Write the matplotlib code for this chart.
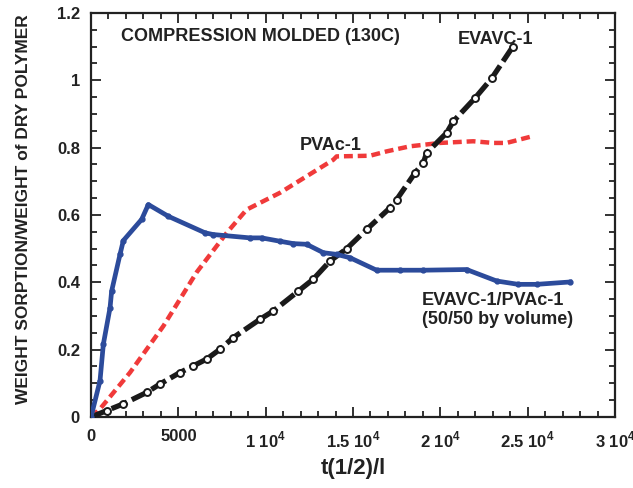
import matplotlib
matplotlib.use("Agg")
import matplotlib.pyplot as plt
from matplotlib.ticker import MultipleLocator, FixedLocator, FixedFormatter

plt.rcParams['font.family'] = ['Liberation Sans', 'DejaVu Sans']
plt.rcParams['font.weight'] = 'bold'
plt.rcParams['mathtext.fontset'] = 'custom'
plt.rcParams['mathtext.rm'] = 'Liberation Sans:bold'
plt.rcParams['mathtext.bf'] = 'Liberation Sans:bold'

# Blend EVAVC-1/PVAc-1 (50/50 by volume)
blend_x = [0, 515, 705, 1090, 1180, 1660, 1850, 2900, 3280, 4430, 6530, 6990,
           9100, 9770, 10820, 11580, 12340, 13300, 14060, 14830, 16350, 17690,
           19020, 21500, 23220, 24460, 25510, 27420]
blend_y = [0.0, 0.108, 0.216, 0.325, 0.374, 0.483, 0.524, 0.587, 0.631, 0.596,
           0.547, 0.542, 0.532, 0.532, 0.522, 0.515, 0.513, 0.488, 0.483, 0.473,
           0.436, 0.436, 0.436, 0.438, 0.404, 0.394, 0.394, 0.401]

# PVAc-1
pvac_x = [0, 515, 2230, 4140, 6050, 7770, 8910, 10820, 12500, 13870, 14060,
          15970, 16930, 18260, 19980, 21880, 23030, 23790, 25130]
pvac_y = [0.0, 0.024, 0.132, 0.27, 0.43, 0.547, 0.616, 0.666, 0.72, 0.764,
          0.774, 0.776, 0.789, 0.804, 0.814, 0.819, 0.814, 0.814, 0.832]

# EVAVC-1
evavc_x = [0, 900, 1850, 3190, 3950, 5090, 5860, 6620, 7380, 8150, 9670, 10440,
           11870, 12720, 13680, 14640, 15780, 17110, 17500, 18550, 19030, 19210,
           20360, 20740, 21980, 22940, 24150]
evavc_y = [0.0, 0.019, 0.039, 0.073, 0.098, 0.132, 0.152, 0.172, 0.201, 0.236,
           0.29, 0.315, 0.374, 0.409, 0.463, 0.500, 0.557, 0.621, 0.646, 0.725,
           0.755, 0.784, 0.844, 0.878, 0.947, 1.006, 1.10]

xtick_vals = [0, 5000, 10000, 15000, 20000, 25000, 30000]
xtick_labels = ['0', '5000', r'1 10$^{4}$', r'1.5 10$^{4}$', r'2 10$^{4}$',
                r'2.5 10$^{4}$', r'3 10$^{4}$']
ytick_vals = [0, 0.2, 0.4, 0.6, 0.8, 1.0, 1.2]
ytick_labels = ['0', '0.2', '0.4', '0.6', '0.8', '1', '1.2']

fig = plt.figure(figsize=(6.33, 4.88), dpi=100)
ax = fig.add_axes([0.1438, 0.1455, 0.8278, 0.8279])

blue = '#2c4b9b'
red = '#f03a3a'
ink = '#222222'

ax.plot(pvac_x, pvac_y, color=red, lw=3.2, dashes=(2.0, 1.1), zorder=2)
ax.plot(evavc_x, evavc_y, color='#1a1a1a', lw=3.8, dashes=(3.2, 1.0), zorder=3)
ax.plot(evavc_x, evavc_y, ls='none', marker='o', ms=5, mfc='white',
        mec='#1a1a1a', mew=1.4, zorder=4)
ax.plot(blend_x, blend_y, color=blue, lw=3.4, marker='o', ms=3.5,
        mfc=blue, mec=blue, zorder=5)

ax.set_xlim(0, 30000)
ax.set_ylim(0, 1.2)
ax.xaxis.set_major_locator(FixedLocator(xtick_vals))
ax.xaxis.set_major_formatter(FixedFormatter(xtick_labels))
ax.xaxis.set_minor_locator(MultipleLocator(1000))
ax.yaxis.set_major_locator(FixedLocator(ytick_vals))
ax.yaxis.set_major_formatter(FixedFormatter(ytick_labels))
ax.yaxis.set_minor_locator(MultipleLocator(0.05))

ax.tick_params(which='both', direction='in', top=True, right=True,
               width=1.3, labelsize=12, colors=ink)
ax.tick_params(which='major', length=7)
ax.tick_params(which='minor', length=4)
ax.tick_params(axis='x', which='major', pad=9)
ax.tick_params(axis='y', which='major', pad=8)
for s in ax.spines.values():
    s.set_linewidth(1.6)
    s.set_color(ink)

ax.set_xlabel('t(1/2)/l', fontsize=16, fontweight='bold', labelpad=6,
              color=ink)
ax.set_ylabel('WEIGHT SORPTION/WEIGHT of DRY POLYMER', fontsize=12.5,
              fontweight='bold', color=ink)
ax.yaxis.set_label_coords(-0.115, 0.515)

ax.text(1700, 1.13, 'COMPRESSION MOLDED (130C)', fontsize=13,
        fontweight='bold', color=ink, va='center', ha='left')
ax.text(11950, 0.805, 'PVAc-1', fontsize=13, fontweight='bold',
        color=ink, va='center', ha='left')
ax.text(21000, 1.12, 'EVAVC-1', fontsize=13, fontweight='bold',
        color=ink, va='center', ha='left')
ax.text(18950, 0.37, 'EVAVC-1/PVAc-1\n(50/50 by volume)', fontsize=13,
        fontweight='bold', color=ink, va='top', ha='left',
        linespacing=1.1)

fig.savefig('out.png', dpi=100)
